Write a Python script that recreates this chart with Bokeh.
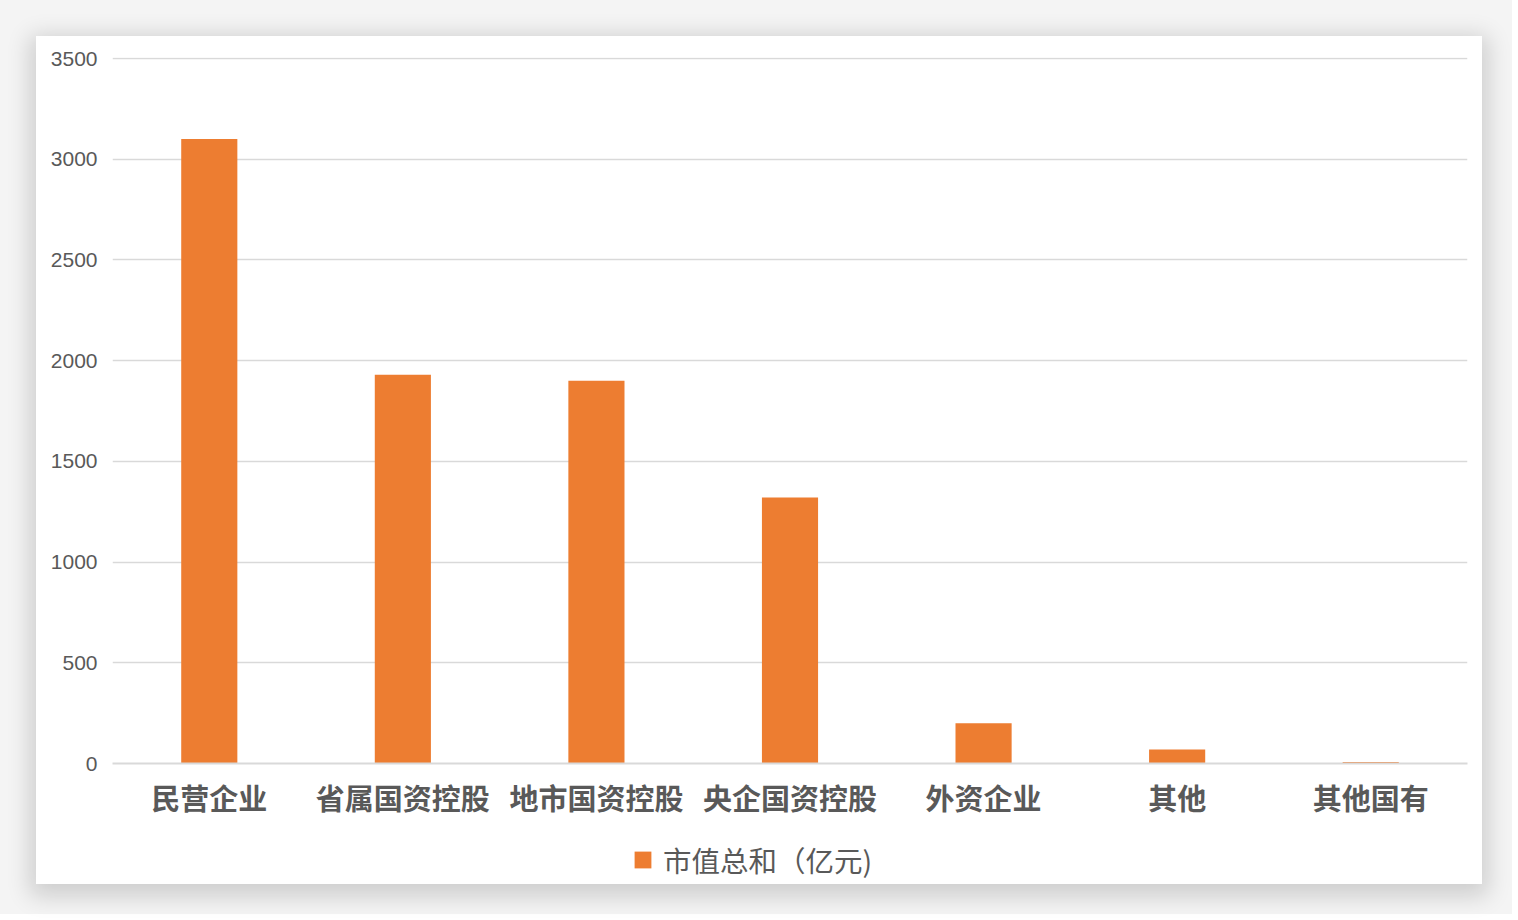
from bokeh.plotting import figure
from bokeh.models import ColumnDataSource, Legend, LegendItem, FixedTicker
from bokeh.layouts import column
from bokeh.embed import file_html
from bokeh.resources import INLINE

categories = ["民营企业", "省属国资控股", "地市国资控股", "央企国资控股", "外资企业", "其他", "其他国有"]
values = [3100, 1930, 1900, 1320, 200, 70, 8]
y_ticks = [0, 500, 1000, 1500, 2000, 2500, 3000, 3500]
series_name = "市值总和（亿元)"

CJK = "Noto Sans CJK SC"
TEXT = "#595959"
BAR = "#ED7D31"
GRID = "#d9d9d9"

src = ColumnDataSource(dict(cat=categories, val=values))

# main chart
p = figure(x_range=categories, y_range=(0, 3505), frame_width=1355, frame_height=706,
           output_backend="svg", toolbar_location=None,
           min_border_left=76, min_border_right=15, min_border_top=21, min_border_bottom=75,
           background_fill_color="white", border_fill_color="white")
p.outline_line_color = None

r = p.vbar(x="cat", top="val", width=0.29, source=src, fill_color=BAR, line_color=None)

p.xgrid.grid_line_color = None
p.ygrid.grid_line_color = GRID
p.ygrid.grid_line_width = 1.5
p.yaxis.ticker = FixedTicker(ticks=y_ticks)

p.yaxis.axis_line_color = None
p.yaxis.major_tick_line_color = None
p.yaxis.minor_tick_line_color = None
p.yaxis.major_label_standoff = 9
p.yaxis.major_label_text_font = "Liberation Sans"
p.yaxis.major_label_text_font_size = "21px"
p.yaxis.major_label_text_color = TEXT

p.xaxis.axis_line_color = GRID
p.xaxis.axis_line_width = 2
p.xaxis.major_tick_line_color = None
p.xaxis.minor_tick_line_color = None
p.xaxis.major_label_standoff = 6
p.xaxis.major_label_text_font = CJK
p.xaxis.major_label_text_font_size = "29px"
p.xaxis.major_label_text_font_style = "bold"
p.xaxis.major_label_text_color = TEXT

# legend strip below the chart
lf = figure(width=1446, height=46, x_range=(0, 1), y_range=(0, 1),
            output_backend="svg", toolbar_location=None,
            x_axis_type=None, y_axis_type=None,
            min_border_left=0, min_border_right=0, min_border_top=0, min_border_bottom=0,
            background_fill_color="white", border_fill_color="white")
lf.outline_line_color = None
lf.xgrid.grid_line_color = None
lf.ygrid.grid_line_color = None
lr = lf.vbar(x=[0.5], top=[0], bottom=[0], width=0, fill_color=BAR, line_color=None)

legend = Legend(items=[LegendItem(label=series_name, renderers=[lr])],
                location=(520, 4), orientation="horizontal",
                glyph_width=21, glyph_height=21, label_standoff=10,
                label_text_font=CJK, label_text_font_size="28.5px", label_text_color=TEXT,
                border_line_color=None, background_fill_color=None, background_fill_alpha=0,
                margin=0, padding=0)
lf.add_layout(legend)

card = column(p, lf, spacing=0,
              styles={"box-shadow": "0 6px 22px 6px rgba(0,0,0,0.16)", "background-color": "white"})
card.margin = (36, 30, 30, 36)

outer = column(card, styles={"background-color": "#f4f4f4"})

open("out.html", "w").write(file_html(outer, INLINE))
